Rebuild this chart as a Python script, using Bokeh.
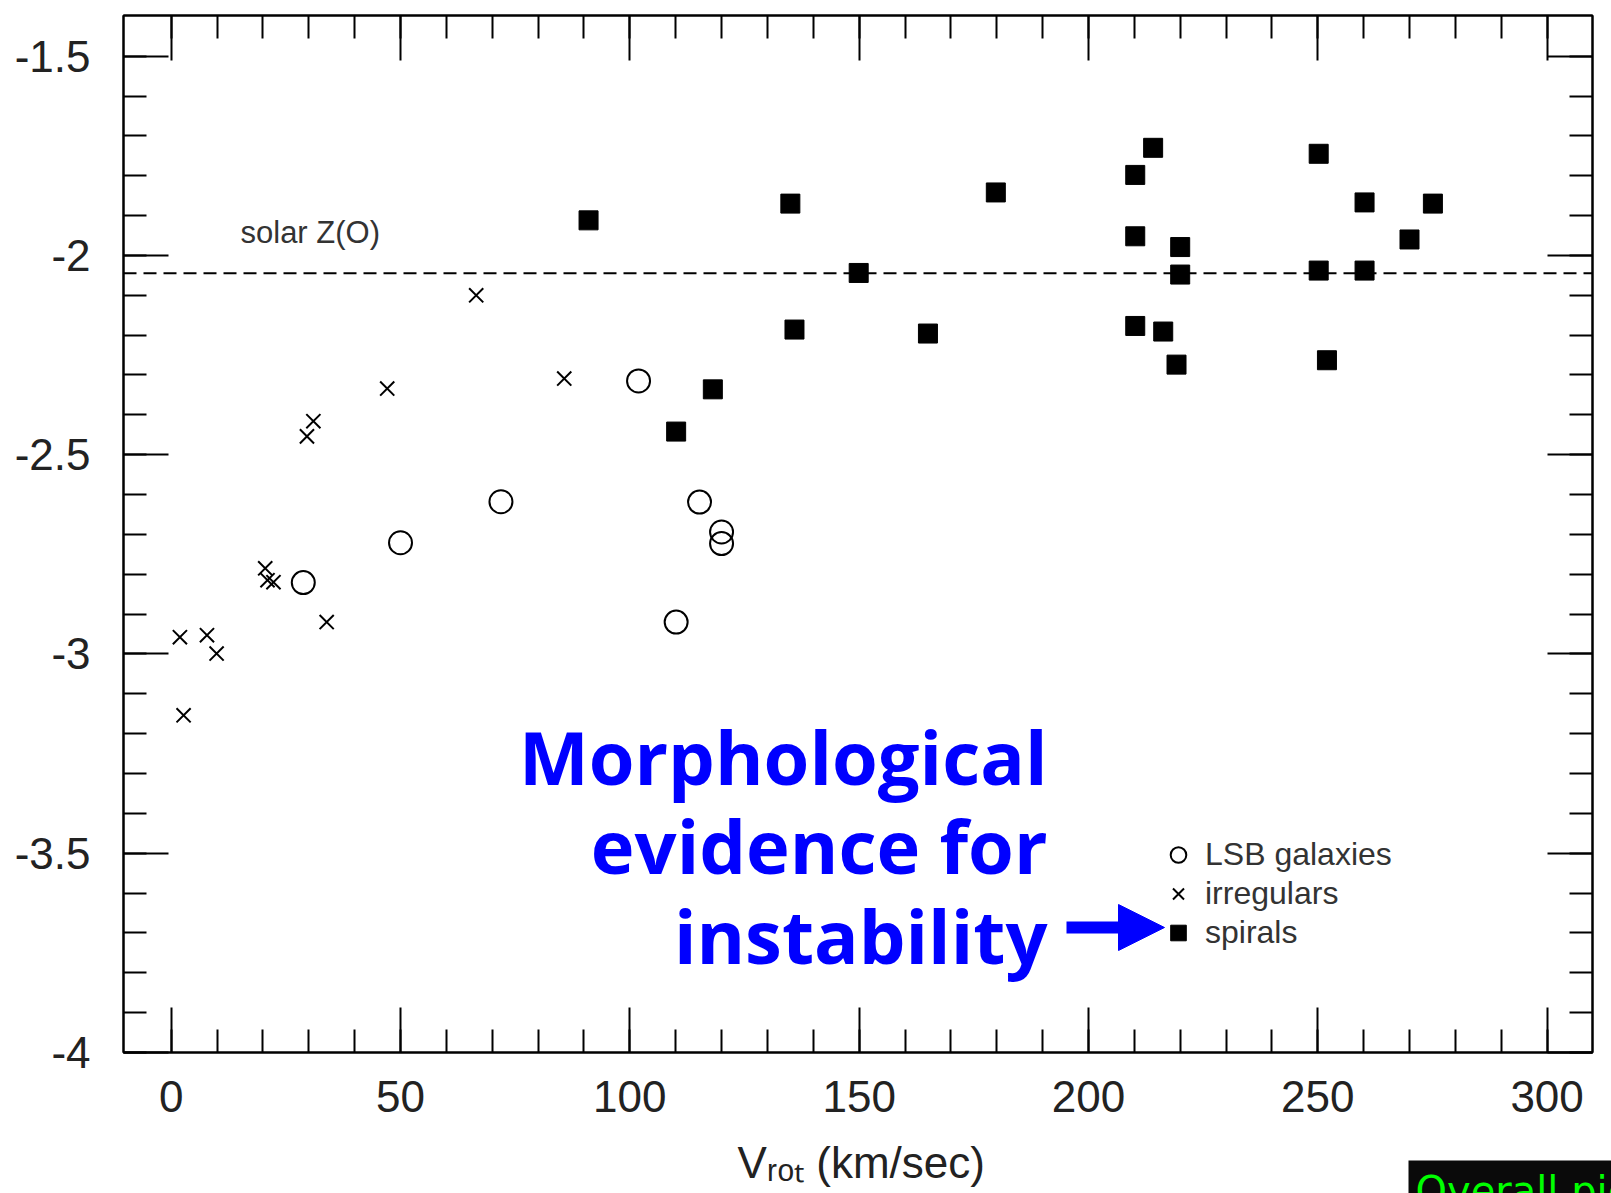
from bokeh.plotting import figure
from bokeh.models import (FixedTicker, LinearAxis, Span, Label, Legend, LegendItem,
                          Arrow, NormalHead, Range1d, Title)
from bokeh.embed import file_html
from bokeh.resources import INLINE

# ---------------- data ----------------
lsb_v = [28.8, 50.0, 71.9, 101.9, 115.2, 120.0, 120.0, 110.1]
lsb_z = [-2.821, -2.721, -2.618, -2.315, -2.619, -2.694, -2.723, -2.920]

irr_v = [47.1, 31.0, 29.6, 20.5, 21.0, 22.3, 33.9, 1.9, 7.8, 9.9, 2.7, 66.5, 85.7]
irr_z = [-2.334, -2.416, -2.454, -2.785, -2.815, -2.820, -2.920, -2.958, -2.953,
         -2.999, -3.154, -2.100, -2.309]

spi_v = [91.0, 110.1, 118.1, 135.0, 135.9, 149.9, 165.0, 179.8, 210.2, 210.2, 210.2,
         214.1, 216.3, 219.2, 220.0, 220.0, 250.2, 250.2, 252.0, 260.2, 260.2, 270.0, 275.1]
spi_z = [-1.912, -2.442, -2.336, -1.870, -2.186, -2.044, -2.196, -1.842, -1.798, -1.952,
         -2.177, -1.730, -2.191, -2.274, -1.979, -2.048, -1.745, -2.038, -2.263, -1.867,
         -2.038, -1.960, -1.870]

solar_z = -2.045

x_ticks = [0, 50, 100, 150, 200, 250, 300]
x_tick_labels = ["0", "50", "100", "150", "200", "250", "300"]
y_ticks = [-4.0, -3.5, -3.0, -2.5, -2.0, -1.5]
y_tick_labels = ["-4", "-3.5", "-3", "-2.5", "-2", "-1.5"]

legend_labels = ["LSB galaxies", "irregulars", "spirals"]
x_title = "V\u1d63\u2092\u209c (km/sec)"
footer_text = "Overall picture"

# ---------------- layout ----------------
W, H = 1611, 1193
FL, FR, FT, FB = 123, 1592, 15, 1052
X0, X1 = -10.4, 309.9
Y0, Y1 = -4.0, -1.398


def px_x(X):
    return X0 + (X - FL) / (FR - FL) * (X1 - X0)


def px_y(Y):
    return Y1 - (Y - FT) / (FB - FT) * (Y1 - Y0)


p = figure(width=W, height=H, output_backend="svg", toolbar_location=None,
           x_range=Range1d(X0, X1), y_range=Range1d(Y0, Y1),
           min_border_left=FL, min_border_right=W - FR,
           min_border_top=FT, min_border_bottom=H - FB,
           background_fill_color="white", border_fill_color="white")
p.grid.visible = False
p.outline_line_color = "black"
p.outline_line_width = 2

xt = FixedTicker(ticks=x_ticks, minor_ticks=list(range(0, 310, 10)))
yt = FixedTicker(ticks=y_ticks, minor_ticks=[round(-4.0 + 0.1 * i, 1) for i in range(26)])


def style_axis(ax, ticks, labels):
    ax.axis_line_width = 2
    ax.axis_line_color = "black"
    ax.major_tick_line_width = 2
    ax.minor_tick_line_width = 2
    ax.major_tick_line_color = "black"
    ax.minor_tick_line_color = "black"
    ax.major_tick_in = 45
    ax.major_tick_out = 0
    ax.minor_tick_in = 23
    ax.minor_tick_out = 0
    if labels is not None:
        ax.major_label_overrides = {float(t): l for t, l in zip(ticks, labels)}
        ax.major_label_text_font = "Liberation Sans"
        ax.major_label_text_font_size = "44px"
        ax.major_label_text_color = "#222222"
    else:
        ax.major_label_overrides = {float(t): "" for t in ticks}
        ax.major_label_text_font_size = "1px"
        ax.major_label_standoff = 0


p.xaxis.ticker = xt
p.yaxis.ticker = yt
style_axis(p.xaxis[0], x_ticks, x_tick_labels)
style_axis(p.yaxis[0], y_ticks, y_tick_labels)
p.xaxis.major_label_standoff = 28
p.yaxis.major_label_standoff = 33

top_ax = LinearAxis(ticker=xt)
right_ax = LinearAxis(ticker=yt)
style_axis(top_ax, x_ticks, None)
style_axis(right_ax, y_ticks, None)
p.add_layout(top_ax, "above")
p.add_layout(right_ax, "right")

# dashed solar line
p.add_layout(Span(location=solar_z, dimension="width", line_color="black",
                  line_width=2, line_dash="13 7"))

# data
r_lsb = p.scatter(lsb_v, lsb_z, marker="circle", size=23, fill_color=None,
                  line_color="black", line_width=2)
r_irr = p.scatter(irr_v, irr_z, marker="x", size=20, line_color="black", line_width=2)
r_spi = p.scatter(spi_v, spi_z, marker="square", size=19, fill_color="black",
                  line_color="black", line_width=1)

legend = Legend(items=[LegendItem(label=legend_labels[0], renderers=[r_lsb]),
                       LegendItem(label=legend_labels[1], renderers=[r_irr]),
                       LegendItem(label=legend_labels[2], renderers=[r_spi])],
                location=(1158 - FL, FB - 952), padding=0, margin=0, spacing=0,
                glyph_width=40, glyph_height=39, label_height=39, label_standoff=7,
                label_text_font="Liberation Sans", label_text_font_size="32px",
                label_text_color="#333333", border_line_color=None,
                background_fill_alpha=0)
p.add_layout(legend)

# texts (baseline correction ~0.41 em)
p.add_layout(Label(x=px_x(240), y=px_y(245 - 0.41 * 31), text="solar Z(O)",
                   text_font="Liberation Sans", text_font_size="31px",
                   text_color="#333333", text_baseline="alphabetic"))

for txt, base in zip(["Morphological", "evidence for", "instability"], [786, 875, 965]):
    p.add_layout(Label(x=px_x(1047), y=px_y(base - 0.41 * 74), text=txt, text_font="Open Sans",
                       text_font_style="bold", text_font_size="74px", text_color="#0000FF",
                       text_align="right", text_baseline="alphabetic"))

p.add_layout(Arrow(x_start=px_x(1066), y_start=px_y(927), x_end=px_x(1164), y_end=px_y(927),
                   line_color="#0000FF", line_width=12,
                   end=NormalHead(size=46, fill_color="#0000FF", line_color="#0000FF")))

# x-axis title: a Label in the below panel (not clipped to the frame);
# padding only enlarges its slot so the footer slot lands at the canvas bottom
PAD = 14
p.add_layout(Label(x=px_x(737 - PAD), y=px_y(1137 - PAD), text=x_title,
                   text_font="Liberation Sans", text_font_size="44px",
                   text_color="#222222", text_baseline="top", padding=PAD), "below")

# cut-off footer box: Title with negative standoff so it takes almost no room
footer = Title(text=footer_text, align="left", offset=1408 - FL, vertical_align="top",
               text_font="DejaVu Sans", text_font_size="40px", text_font_style="normal",
               text_color="#00FF00", background_fill_color="#0a0a0a", standoff=-62)
try:
    footer.padding = 7
except Exception:
    pass
p.add_layout(footer, "below")

open("out.html", "w").write(file_html(p, INLINE))
